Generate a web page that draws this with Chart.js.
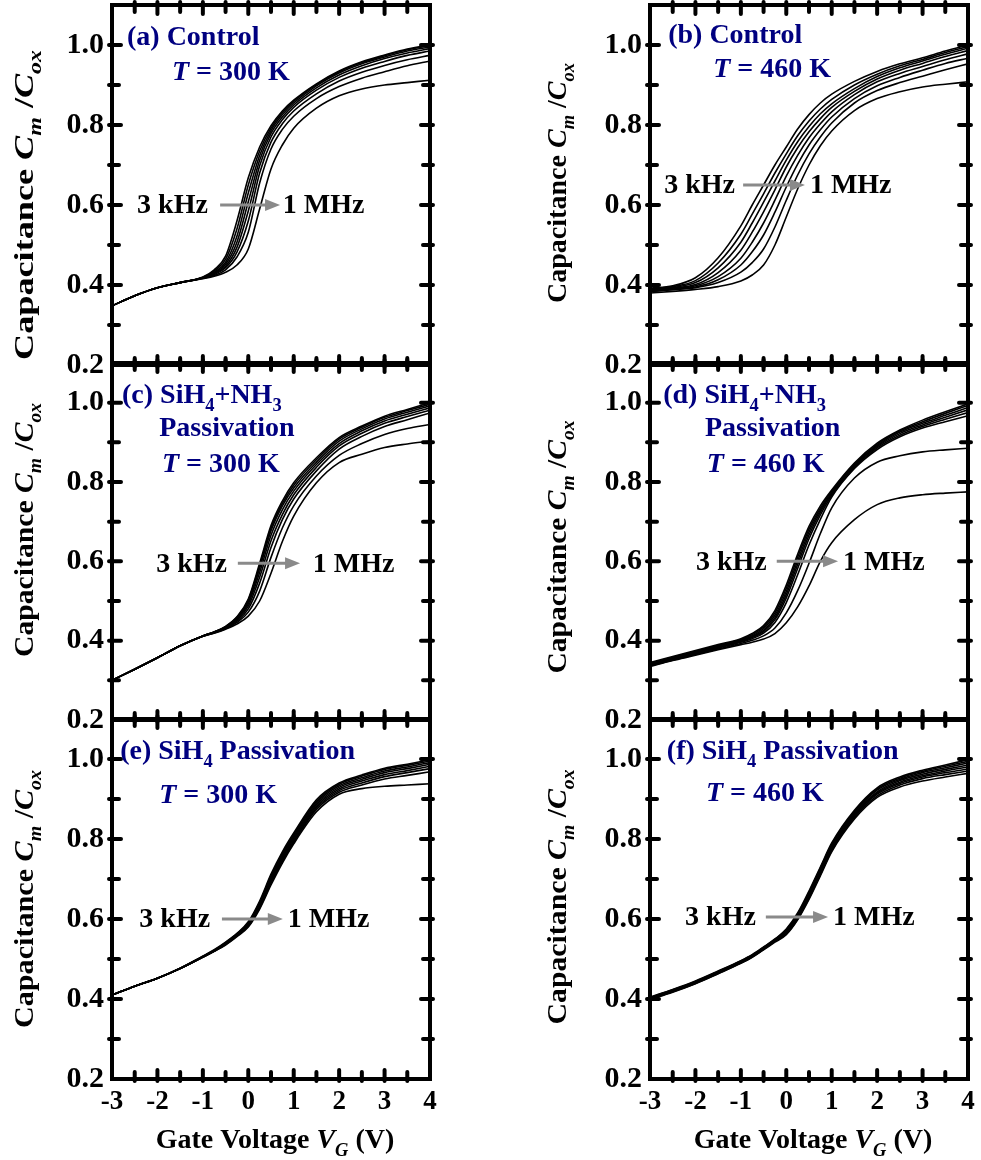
<!DOCTYPE html>
<html lang="en">
<head>
  <meta charset="UTF-8">
  <title>C-V curves</title>
  <script src="https://cdn.jsdelivr.net/npm/chart.js"></script>
  <style>
    body {
      margin: 0;
      padding: 0;
      background-color: #fff;
    }
    .wrap {
      position: relative;
      width: 981px;
      height: 1160px;
    }
    canvas {
      position: absolute;
      left: 0;
      top: 0;
    }
  </style>
</head>

<body>
  <div class="wrap">
    <canvas id="p0" width="981" height="1160"></canvas>
    <canvas id="p1" width="981" height="1160"></canvas>
    <canvas id="p2" width="981" height="1160"></canvas>
    <canvas id="p3" width="981" height="1160"></canvas>
    <canvas id="p4" width="981" height="1160"></canvas>
    <canvas id="p5" width="981" height="1160"></canvas>
  </div>

  <script>
    // Gate voltage (V) and measuring frequencies
    const VG = [-3, -2.5, -2, -1.5, -1, -0.75, -0.5, -0.25, 0, 0.25, 0.5, 0.75, 1, 1.5, 2, 2.5, 3, 3.5, 4];
    const freqs = ['3 kHz', '10 kHz', '20 kHz', '50 kHz', '100 kHz', '200 kHz', '500 kHz', '1 MHz'];
    const xTicks = [-3, -2, -1, 0, 1, 2, 3, 4];
    const yTicks = [0.2, 0.4, 0.6, 0.8, 1.0];

    // Cm/Cox, one row per frequency (3 kHz first)
    // (a) Control, 300 K
    const capA = [
      [.348, .373, .393, .406, .420, .438, .472, .560, .668, .745, .798, .835, .862, .903, .935, .958, .975, .990, 1.000],
      [.348, .373, .393, .406, .419, .435, .464, .540, .650, .735, .792, .831, .859, .901, .933, .956, .973, .988, .998],
      [.348, .373, .393, .406, .419, .432, .457, .522, .630, .724, .786, .826, .855, .898, .930, .953, .970, .985, .995],
      [.348, .373, .393, .406, .418, .430, .452, .507, .608, .712, .779, .820, .850, .893, .925, .948, .966, .980, .991],
      [.348, .373, .393, .406, .418, .428, .447, .494, .585, .698, .770, .813, .844, .887, .919, .942, .959, .974, .985],
      [.348, .373, .393, .406, .417, .426, .443, .482, .560, .680, .757, .803, .835, .878, .910, .932, .949, .963, .974],
      [.348, .373, .393, .406, .417, .424, .438, .470, .532, .655, .740, .789, .822, .866, .896, .917, .933, .948, .960],
      [.348, .373, .393, .406, .416, .422, .432, .450, .490, .590, .690, .750, .792, .842, .873, .890, .900, .906, .912]
    ];
    // (b) Control, 460 K
    const capB = [
      [.392, .398, .418, .468, .548, .600, .650, .700, .745, .790, .826, .855, .877, .909, .934, .953, .968, .985, 1.000],
      [.390, .396, .411, .455, .527, .577, .628, .680, .728, .773, .810, .840, .864, .900, .927, .948, .964, .981, .996],
      [.388, .394, .406, .443, .507, .555, .607, .660, .712, .758, .796, .828, .853, .891, .921, .943, .960, .977, .992],
      [.386, .392, .401, .431, .487, .532, .583, .638, .695, .743, .783, .816, .844, .884, .915, .937, .954, .971, .986],
      [.385, .390, .398, .421, .467, .507, .555, .612, .672, .724, .768, .803, .833, .876, .908, .929, .946, .963, .978],
      [.384, .389, .395, .413, .450, .483, .525, .582, .645, .702, .750, .788, .820, .866, .898, .919, .937, .954, .967],
      [.383, .388, .393, .406, .432, .456, .490, .545, .612, .675, .728, .770, .805, .855, .886, .906, .922, .938, .953],
      [.380, .384, .389, .396, .410, .425, .450, .500, .570, .640, .700, .748, .785, .836, .866, .883, .895, .902, .908]
    ];
    // (c) SiH4+NH3, 300 K
    const capC = [
      [.300, .328, .357, .387, .412, .422, .436, .460, .505, .595, .690, .752, .798, .861, .912, .941, .966, .983, 1.000],
      [.300, .328, .357, .387, .412, .422, .435, .459, .502, .589, .684, .746, .792, .856, .908, .938, .963, .980, .996],
      [.300, .328, .357, .387, .412, .422, .434, .457, .498, .582, .677, .740, .785, .850, .903, .934, .959, .976, .992],
      [.300, .328, .357, .387, .412, .421, .433, .455, .493, .572, .666, .730, .777, .844, .897, .929, .954, .971, .987],
      [.300, .328, .357, .387, .412, .421, .432, .452, .487, .560, .652, .718, .768, .837, .891, .923, .948, .965, .981],
      [.300, .328, .357, .387, .411, .420, .431, .449, .480, .545, .635, .705, .757, .828, .883, .915, .940, .957, .974],
      [.300, .328, .357, .387, .411, .420, .430, .446, .472, .525, .610, .684, .740, .815, .867, .897, .920, .935, .945],
      [.300, .328, .357, .387, .411, .419, .429, .442, .462, .500, .570, .650, .714, .798, .849, .870, .887, .896, .903]
    ];
    // (d) SiH4+NH3, 460 K
    const capD = [
      [.345, .360, .375, .390, .405, .418, .438, .476, .540, .618, .688, .740, .780, .848, .898, .931, .956, .977, .997],
      [.343, .358, .373, .388, .403, .415, .434, .470, .532, .610, .681, .734, .777, .845, .895, .929, .952, .973, .993],
      [.341, .356, .371, .386, .401, .412, .430, .464, .524, .601, .674, .729, .773, .842, .892, .926, .948, .968, .988],
      [.339, .354, .369, .384, .399, .410, .426, .458, .516, .592, .666, .724, .770, .840, .889, .922, .944, .963, .982],
      [.338, .353, .368, .383, .398, .408, .423, .453, .508, .582, .657, .717, .766, .837, .886, .918, .940, .958, .975],
      [.337, .352, .366, .381, .396, .405, .419, .446, .496, .566, .641, .706, .762, .834, .882, .914, .936, .952, .967],
      [.336, .351, .365, .379, .393, .401, .412, .432, .470, .526, .595, .670, .735, .810, .850, .866, .876, .881, .885],
      [.335, .350, .363, .377, .390, .396, .404, .418, .445, .485, .538, .600, .647, .705, .743, .760, .768, .772, .775]
    ];
    // (e) SiH4, 300 K
    const capE = [
      [.410, .432, .452, .477, .507, .523, .542, .564, .593, .645, .712, .768, .815, .898, .940, .960, .977, .987, .998],
      [.410, .432, .452, .477, .507, .522, .541, .563, .591, .641, .708, .764, .811, .894, .937, .957, .974, .984, .995],
      [.410, .432, .452, .477, .506, .521, .540, .562, .589, .638, .704, .760, .807, .890, .933, .953, .970, .980, .991],
      [.410, .432, .452, .476, .506, .521, .539, .561, .587, .635, .700, .756, .803, .886, .929, .949, .966, .976, .987],
      [.410, .432, .452, .476, .505, .520, .538, .560, .586, .632, .696, .752, .799, .882, .925, .945, .961, .971, .982],
      [.410, .432, .452, .476, .505, .520, .537, .559, .584, .630, .692, .748, .795, .878, .921, .940, .956, .966, .976],
      [.410, .432, .452, .476, .505, .519, .536, .558, .582, .628, .689, .745, .792, .874, .917, .935, .950, .959, .968],
      [.410, .432, .452, .476, .504, .519, .535, .556, .580, .625, .685, .740, .788, .868, .912, .926, .932, .935, .938]
    ];
    // (f) SiH4, 460 K
    const capF = [
      [.405, .424, .445, .470, .496, .511, .530, .550, .575, .615, .670, .730, .790, .872, .928, .955, .972, .985, .998],
      [.404, .423, .444, .469, .495, .510, .529, .549, .573, .612, .667, .727, .787, .869, .925, .952, .969, .982, .994],
      [.403, .422, .443, .468, .494, .509, .528, .548, .571, .610, .664, .724, .784, .866, .922, .949, .966, .978, .990],
      [.402, .421, .442, .467, .493, .508, .527, .547, .569, .607, .661, .721, .780, .863, .918, .946, .962, .974, .985],
      [.401, .420, .441, .466, .492, .507, .526, .546, .567, .605, .658, .718, .777, .860, .915, .942, .958, .970, .980],
      [.400, .419, .440, .465, .491, .506, .525, .545, .565, .603, .655, .715, .774, .857, .912, .939, .955, .966, .975],
      [.400, .418, .439, .464, .490, .505, .524, .544, .563, .600, .652, .711, .771, .854, .908, .935, .951, .961, .970],
      [.399, .417, .438, .463, .489, .504, .523, .542, .561, .598, .649, .708, .768, .850, .904, .930, .945, .955, .964]
    ];
    const panels = [capA, capB, capC, capD, capE, capF];

    // Panel captions (text parts) and where they sit, in data units
    const T300 = [{ t: 'T', it: 1 }, { t: ' = 300 K' }];
    const T460 = [{ t: 'T', it: 1 }, { t: ' = 460 K' }];
    const notes = [
      { lines: [[[{ t: '(a) Control' }], -2.67, 1.0], [T300, -1.68, 0.912]],
        khz: -0.89, a0: -0.62, a1: 0.70, mhz: 0.76, ay: 0.6 },
      { lines: [[[{ t: '(b) Control' }], -2.60, 1.005], [T460, -1.61, 0.92]],
        khz: -1.13, a0: -0.95, a1: 0.41, mhz: 0.52, ay: 0.65 },
      { lines: [[[{ t: '(c) SiH' }, { t: '4', sub: 1 }, { t: '+NH' }, { t: '3', sub: 1 }], -2.78, 1.0],
                [[{ t: 'Passivation' }], -1.96, 0.917], [T300, -1.90, 0.826]],
        khz: -0.47, a0: -0.23, a1: 1.14, mhz: 1.42, ay: 0.595 },
      { lines: [[[{ t: '(d) SiH' }, { t: '4', sub: 1 }, { t: '+NH' }, { t: '3', sub: 1 }], -2.71, 1.0],
                [[{ t: 'Passivation' }], -1.79, 0.917], [T460, -1.75, 0.826]],
        khz: -0.43, a0: -0.21, a1: 1.14, mhz: 1.25, ay: 0.6 },
      { lines: [[[{ t: '(e) SiH' }, { t: '4', sub: 1 }, { t: ' Passivation' }], -2.82, 1.0], [T300, -1.96, 0.89]],
        khz: -0.84, a0: -0.58, a1: 0.76, mhz: 0.87, ay: 0.6 },
      { lines: [[[{ t: '(f) SiH' }, { t: '4', sub: 1 }, { t: ' Passivation' }], -2.63, 1.0], [T460, -1.77, 0.895]],
        khz: -0.67, a0: -0.45, a1: 0.92, mhz: 1.03, ay: 0.605 }
    ];

    // layout
    const rowTop = [5, 363, 719];
    const rowBottom = [365, 720, 1079];
    const colLeft = [112, 650];
    const colRight = [430, 968];
    const xAxisH = 40;
    const yTitleX = [33, 566];
    const yTitleMid = [205, 183, 530, 547, 899, 897];
    const yTitleLen = [310, 240, 254, 253, 258, 255];

    const FONT = '"Liberation Serif", "Times New Roman", serif';
    const NAVY = '#000080';
    const ARROW = '#8a8a8a';

    function richWidth(ctx, parts, size) {
      let w = 0;
      parts.forEach(p => {
        const fs = p.sub ? size * 0.66 : size;
        ctx.font = (p.it ? 'italic ' : '') + 'bold ' + fs + 'px ' + FONT;
        w += ctx.measureText(p.t).width;
      });
      return w;
    }

    function drawRich(ctx, parts, x, y, size) {
      let cx = x;
      parts.forEach(p => {
        const fs = p.sub ? size * 0.66 : size;
        ctx.font = (p.it ? 'italic ' : '') + 'bold ' + fs + 'px ' + FONT;
        ctx.fillText(p.t, cx, y + (p.sub ? size * 0.3 : 0));
        cx += ctx.measureText(p.t).width;
      });
    }

    // thick box with inward ticks on all four sides
    const framePlugin = {
      id: 'frame',
      afterDatasetsDraw(chart) {
        const { ctx, chartArea: a, scales: { x, y } } = chart;
        ctx.save();
        ctx.strokeStyle = '#000';
        ctx.lineWidth = 4;
        ctx.strokeRect(a.left, a.top, a.right - a.left, a.bottom - a.top);
        ctx.lineCap = 'round';
        ctx.beginPath();
        for (let v = -2.5; v < 4; v += 0.5) {
          const p = x.getPixelForValue(v);
          const L = Number.isInteger(v) ? 9 : 7;
          ctx.moveTo(p, a.bottom + 2); ctx.lineTo(p, a.bottom - L);
          ctx.moveTo(p, a.top - 3); ctx.lineTo(p, a.top + L);
        }
        for (let k = 3; k <= 10; k++) {
          const p = y.getPixelForValue(k / 10);
          const L = k % 2 === 0 ? 9 : 7;
          ctx.moveTo(a.left - 3, p); ctx.lineTo(a.left + L, p);
          ctx.moveTo(a.right + 3, p); ctx.lineTo(a.right - L, p);
        }
        ctx.stroke();
        ctx.restore();
      }
    };

    // captions, frequency arrow and axis titles
    const textPlugin = {
      id: 'texts',
      afterDraw(chart) {
        const { ctx, scales: { x, y }, chartArea: a } = chart;
        const i = chart.options.plugins.texts.panel;
        const n = notes[i];
        const col = i % 2, row = Math.floor(i / 2);
        ctx.save();
        ctx.textBaseline = 'alphabetic';
        ctx.textAlign = 'left';
        ctx.fillStyle = NAVY;
        n.lines.forEach(([parts, v, c]) => {
          drawRich(ctx, parts, x.getPixelForValue(v), y.getPixelForValue(c), 28);
        });

        // 3 kHz -> 1 MHz
        const ay = y.getPixelForValue(n.ay);
        ctx.fillStyle = '#000';
        ctx.font = 'bold 28px ' + FONT;
        ctx.textBaseline = 'middle';
        ctx.textAlign = 'right';
        ctx.fillText('3 kHz', x.getPixelForValue(n.khz), ay + 1);
        ctx.textAlign = 'left';
        ctx.fillText('1 MHz', x.getPixelForValue(n.mhz), ay + 1);
        const x0 = x.getPixelForValue(n.a0), x1 = x.getPixelForValue(n.a1);
        ctx.strokeStyle = ARROW;
        ctx.fillStyle = ARROW;
        ctx.lineWidth = 3;
        ctx.beginPath();
        ctx.moveTo(x0, ay);
        ctx.lineTo(x1 - 12, ay);
        ctx.stroke();
        ctx.beginPath();
        ctx.moveTo(x1, ay);
        ctx.lineTo(x1 - 15, ay - 6);
        ctx.lineTo(x1 - 15, ay + 6);
        ctx.closePath();
        ctx.fill();

        // y title
        ctx.fillStyle = '#000';
        ctx.textAlign = 'left';
        ctx.textBaseline = 'alphabetic';
        const yParts = [{ t: 'Capacitance ' }, { t: 'C', it: 1 }, { t: 'm', it: 1, sub: 1 }, { t: ' /' },
                        { t: 'C', it: 1 }, { t: 'ox', it: 1, sub: 1 }];
        const w = richWidth(ctx, yParts, 28);
        ctx.save();
        ctx.translate(yTitleX[col], yTitleMid[i]);
        ctx.rotate(-Math.PI / 2);
        ctx.scale(yTitleLen[i] / w, 1);
        drawRich(ctx, yParts, -w / 2, 0, 28);
        ctx.restore();

        // x title on the bottom row
        if (row === 2) {
          const xParts = [{ t: 'Gate Voltage ' }, { t: 'V', it: 1 }, { t: 'G', it: 1, sub: 1 }, { t: ' (V)' }];
          const xw = richWidth(ctx, xParts, 28);
          drawRich(ctx, xParts, (a.left + a.right) / 2 - xw / 2 + 4, 1148, 28);
        }
        ctx.restore();
      }
    };

    panels.forEach((rows, i) => {
      const col = i % 2, row = Math.floor(i / 2);
      const datasets = rows.map((vals, k) => ({
        label: freqs[k],
        data: VG.map((v, j) => ({ x: v, y: vals[j] })),
        borderColor: '#000',
        borderWidth: 1.6,
        pointRadius: 0,
        fill: false,
        cubicInterpolationMode: 'monotone'
      }));

      new Chart(document.getElementById('p' + i), {
        type: 'line',
        data: { datasets: datasets },
        options: {
          responsive: false,
          animation: false,
          events: [],
          layout: {
            padding: {
              left: colLeft[col] - 60,
              right: 981 - colRight[col],
              top: rowTop[row],
              bottom: 1160 - rowBottom[row] - xAxisH
            }
          },
          plugins: {
            legend: { display: false },
            tooltip: { enabled: false },
            texts: { panel: i }
          },
          scales: {
            x: {
              type: 'linear',
              min: -3,
              max: 4,
              grid: { display: false, drawTicks: false },
              border: { display: false },
              ticks: {
                display: row === 2,
                autoSkip: false,
                maxRotation: 0,
                color: '#000',
                padding: 7,
                font: { family: FONT, size: 27, weight: 'bold' },
                callback: v => String(v)
              },
              afterBuildTicks: s => { s.ticks = xTicks.map(v => ({ value: v })); },
              afterFit: s => { s.height = xAxisH; s.paddingLeft = 0; s.paddingRight = 0; }
            },
            y: {
              type: 'linear',
              min: 0.2,
              max: 1.1,
              grid: { display: false, drawTicks: false },
              border: { display: false },
              ticks: {
                color: '#000',
                padding: 8,
                font: { family: FONT, size: 30, weight: 'bold' },
                callback: v => v.toFixed(1)
              },
              afterBuildTicks: s => { s.ticks = yTicks.map(v => ({ value: v })); },
              afterFit: s => { s.width = 60; s.paddingTop = 0; s.paddingBottom = 0; }
            }
          }
        },
        plugins: [framePlugin, textPlugin]
      });
    });
  </script>
</body>
</html>
